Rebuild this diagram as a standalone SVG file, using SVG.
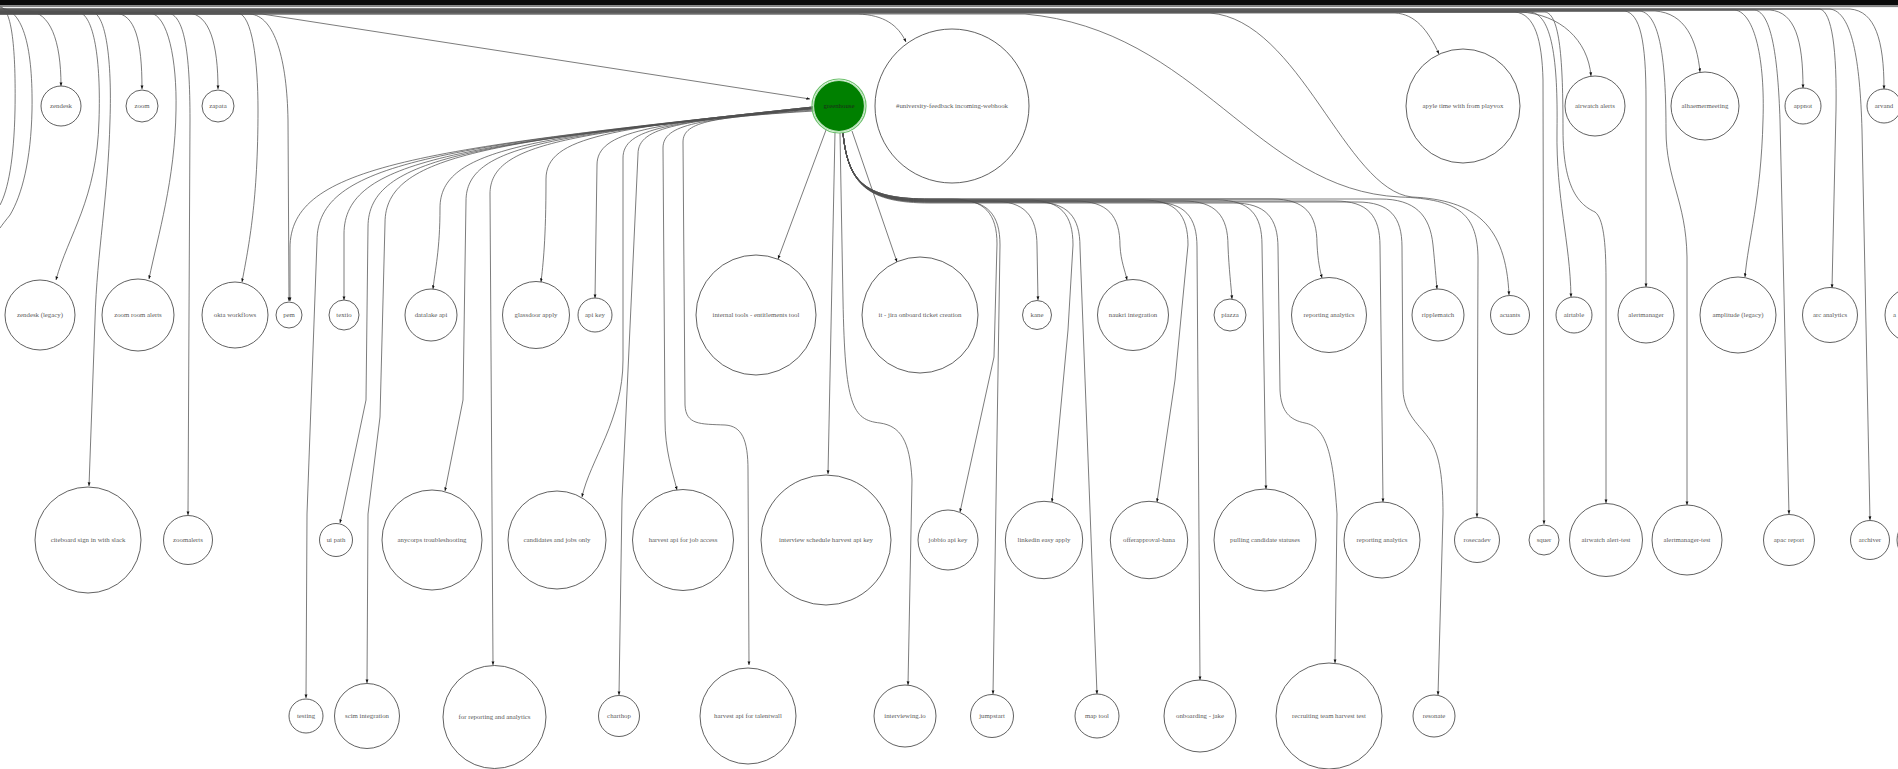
<svg xmlns="http://www.w3.org/2000/svg" width="1898" height="769" viewBox="0 0 1898 769">
<style>
  .e { fill: none; stroke: #505050; stroke-width: 0.75; marker-end: url(#arr); }
  .o { fill: none; stroke: #505050; stroke-width: 0.75; }
  .n circle { fill: #fff; stroke: #383838; stroke-width: 0.8; }
  .n text { font-family: "Liberation Serif", "Times New Roman", serif; font-size: 6.8px; fill: #5a5a5a; text-anchor: middle; }
  #n-greenhouse .ring { fill: none; stroke: #6cc06c; stroke-width: 1.2; }
  #n-greenhouse .core { fill: #008000; stroke: #b8e2b8; stroke-width: 1.2; }
  #n-greenhouse text { fill: #1c2a1c; }
</style>
<defs>
  <marker id="arr" viewBox="0 0 10 10" refX="10" refY="5" markerWidth="3.6" markerHeight="3.6" markerUnits="userSpaceOnUse" orient="auto">
    <path d="M0,1 L10,5 L0,9 z" fill="#111"/>
  </marker>
</defs>
<rect width="1898" height="769" fill="#fff"/>

<g id="edges">
  <!-- dense bundle running along the top edge -->
  <rect x="0" y="0" width="1898" height="5" fill="#0a0a0a"/>
  <path class="o" d="M0,5.6 L1898,5.6" stroke="#333"/>
  <path class="o" d="M0,6.6 L1898,6.6" stroke="#888"/>
  <path class="o" d="M0,7 C12,8 16,50 15,110 C14,160 8,190 0,205"/>
  <path class="o" d="M0,8 C24,9 33,50 32,110 C31,160 22,195 10,215 C6,220 2,225 0,228"/>

  <!-- edges leaving the top bundle -->
  <path class="e" d="M0,11 L28,11 C50,12 61,40 61,86"/>
  <path class="e" d="M0,12 L78,12 C94,14 101,60 99,120 C97,200 68,235 56,280"/>
  <path class="e" d="M0,12 L92,12 C106,14 112,60 110,120 C108,200 97,250 95,320 L89,486"/>
  <path class="e" d="M0,13 L115,13 C135,14 142,40 142,89"/>
  <path class="e" d="M0,13 L150,13 C168,15 177,60 176,110 C175,180 158,235 149,279"/>
  <path class="e" d="M0,13 L168,13 C184,15 190,50 190,120 L188,515"/>
  <path class="e" d="M0,13 L188,13 C210,14 218,45 218,89"/>
  <path class="e" d="M0,13 L238,13 C252,15 258,60 258,110 C258,200 249,245 242,282"/>
  <path class="e" d="M0,14 L250,14 C275,16 287,60 288,120 L289,301"/>
  <path class="e" d="M0,14 L262,14 L810,99"/>
  <path class="e" d="M0,14 L858,14 C884,15 898,25 906,42"/>
  <path class="e" d="M0,14 L1025,14 C1200,30 1255,190 1400,197 C1460,199 1478,215 1478,260 L1477,517"/>
  <path class="e" d="M0,13 L1210,13 C1300,20 1345,190 1412,197 C1475,200 1506,225 1509,295"/>
  <path class="e" d="M0,13 L1395,13 C1415,14 1428,30 1439,54"/>
  <path class="e" d="M0,12 L1520,12 C1560,14 1588,40 1591,76"/>
  <path class="e" d="M0,12 L1515,12 C1535,14 1542,40 1543,80 L1544,524"/>
  <path class="e" d="M0,12 L1530,12 C1552,14 1558,60 1557,130 C1556,200 1570,240 1571,297"/>
  <path class="e" d="M0,12 L1545,12 C1560,14 1563,60 1563,130 C1563,190 1580,205 1595,212 C1603,218 1606,240 1606,280 L1606,503"/>
  <path class="e" d="M0,11 L1655,11 C1685,13 1697,40 1700,72"/>
  <path class="e" d="M0,11 L1625,11 C1640,14 1646,40 1646,100 L1646,287"/>
  <path class="e" d="M0,11 L1640,11 C1660,14 1666,60 1666,130 C1666,180 1686,200 1687,257 L1687,505"/>
  <path class="e" d="M0,10 L1735,10 C1755,13 1765,60 1763,120 C1761,200 1748,240 1745,277"/>
  <path class="e" d="M0,10 L1755,10 C1772,13 1778,60 1780,120 L1789,514"/>
  <path class="e" d="M0,10 L1770,10 C1795,12 1803,40 1803,88"/>
  <path class="e" d="M0,9 L1820,9 C1832,12 1837,50 1836,110 L1832,288"/>
  <path class="e" d="M0,9 L1830,9 C1852,12 1860,60 1862,130 L1870,520"/>
  <path class="e" d="M0,9 L1850,9 C1875,11 1884,40 1884,89"/>

  <!-- greenhouse: fan to the left -->
  <path class="e" d="M813,107 C421,149 290,165 290,248 L290,301"/>
  <path class="e" d="M813,107 C441,147 317,162 317,241 L307,514 L306,698"/>
  <path class="e" d="M813,108 C461,145 344,159 344,234 L344,300"/>
  <path class="e" d="M813,108 C479,143 368,156 368,227 L366,400 L343,510 L340,523"/>
  <path class="e" d="M813,108 C492,141 385,154 385,223 L380,417 L368,514 L367,683"/>
  <path class="e" d="M813,107 C533,137 440,148 440,208 C440,250 435,270 433,289"/>
  <path class="e" d="M813,108 C553,135 466,145 466,201 L463,400 L445,491"/>
  <path class="e" d="M813,108 C571,133 490,143 490,194 L493,665"/>
  <path class="e" d="M813,107 C613,128 546,136 546,179 C546,240 543,265 541,282"/>
  <path class="e" d="M813,108 C651,124 597,131 597,165 L595,298"/>
  <path class="e" d="M813,109 C670,122 623,128 623,158 L623,360 C623,420 590,460 582,497"/>
  <path class="e" d="M813,109 C682,121 638,126 638,154 L622,500 L619,695"/>
  <path class="e" d="M814,110 C700,119 663,124 663,148 L665,420 C665,450 672,470 677,490"/>
  <path class="e" d="M814,111 C715,117 683,121 683,142 L685,405 C686,425 700,424 725,425 C742,426 748,440 748,470 L749,665"/>

  <!-- greenhouse: edges straight below -->
  <path class="e" d="M826,130 L778,259"/>
  <path class="e" d="M835,132 L828,474"/>
  <path class="e" d="M840,133 L843,300 C845,405 852,420 880,423 C900,426 910,440 912,480 L908,685"/>
  <path class="e" d="M852,131 L897,262"/>

  <!-- greenhouse: bundle to the right -->
  <path class="e" d="M843,133 C848,185 868,199 930,199 L952,199 C985,199 997,214 997,244 L994,357 L960,512"/>
  <path class="e" d="M843,133 C848,185 868,200 930,200 L955,200 C988,200 1000,215 1000,245 L993,694"/>
  <path class="e" d="M843,133 C848,185 868,201 930,201 L992,201 C1025,201 1037,216 1037,246 L1038,300"/>
  <path class="e" d="M843,133 C848,185 868,200 930,200 L1028,200 C1061,200 1073,215 1073,245 L1068,330 L1052,502"/>
  <path class="e" d="M843,133 C848,185 868,202 930,202 L1035,202 C1068,202 1080,217 1080,247 L1097,694"/>
  <path class="e" d="M843,133 C848,185 868,201 930,201 L1075,201 C1108,201 1120,216 1120,246 C1121,262 1125,270 1127,280"/>
  <path class="e" d="M843,133 C848,185 868,200 930,200 L1143,200 C1176,200 1188,215 1188,245 L1175,380 L1157,502"/>
  <path class="e" d="M843,133 C848,185 868,202 930,202 L1152,202 C1185,202 1197,217 1197,247 L1200,680"/>
  <path class="e" d="M843,133 C848,185 868,201 930,201 L1183,201 C1216,201 1228,216 1228,246 C1229,270 1231,285 1232,299"/>
  <path class="e" d="M843,133 C848,185 868,200 930,200 L1217,200 C1250,200 1262,215 1262,245 L1266,489"/>
  <path class="e" d="M843,133 C848,185 868,203 930,203 L1233,203 C1266,203 1278,218 1278,248 L1280,390 C1281,412 1290,420 1305,423 C1325,427 1333,450 1337,514 L1335,663"/>
  <path class="e" d="M843,133 C848,185 868,199 930,199 L1272,199 C1305,199 1317,214 1317,244 C1318,262 1320,270 1322,278"/>
  <path class="e" d="M843,133 C848,185 868,201 930,201 L1335,201 C1368,201 1380,216 1380,246 L1383,502"/>
  <path class="e" d="M843,133 C848,185 868,202 930,202 L1357,202 C1390,202 1402,217 1402,247 L1403,390 C1404,415 1420,425 1430,440 C1440,455 1443,480 1443,514 L1438,695"/>
  <path class="e" d="M843,133 C848,185 868,199 930,199 L1380,199 C1415,199 1430,215 1433,245 C1435,265 1436,278 1437,289"/>
</g>

<!-- row 1 -->
<g id="n-zendesk" class="n"><circle cx="61" cy="106" r="20"/><text x="61" y="108">zendesk</text></g>
<g id="n-zoom" class="n"><circle cx="142" cy="106" r="16"/><text x="142" y="108">zoom</text></g>
<g id="n-zapata" class="n"><circle cx="218" cy="106" r="16"/><text x="218" y="108">zapata</text></g>
<g id="n-greenhouse" class="n"><circle class="ring" cx="839" cy="106" r="27"/><circle class="core" cx="839" cy="106" r="25.5"/><text x="839" y="108">greenhouse</text></g>
<g id="n-university-feedback" class="n"><circle cx="952" cy="106" r="77"/><text x="952" y="108">#university-feedback incoming-webhook</text></g>
<g id="n-apyle" class="n"><circle cx="1463" cy="106" r="57"/><text x="1463" y="108">apyle time with from playvox</text></g>
<g id="n-airwatch-alerts" class="n"><circle cx="1595" cy="106" r="30"/><text x="1595" y="108">airwatch alerts</text></g>
<g id="n-alhaemermeeting" class="n"><circle cx="1705" cy="106" r="34"/><text x="1705" y="108">alhaemermeeting</text></g>
<g id="n-appnot" class="n"><circle cx="1803" cy="106" r="18"/><text x="1803" y="108">appnot</text></g>
<g id="n-arvand" class="n"><circle cx="1884" cy="106" r="17"/><text x="1884" y="108">arvand</text></g>

<!-- row 2 -->
<g id="n-zendesk-legacy" class="n"><circle cx="40" cy="315" r="35"/><text x="40" y="317">zendesk (legacy)</text></g>
<g id="n-zoom-room-alerts" class="n"><circle cx="138" cy="315" r="36"/><text x="138" y="317">zoom room alerts</text></g>
<g id="n-okta-workflows" class="n"><circle cx="235" cy="315" r="33"/><text x="235" y="317">okta workflows</text></g>
<g id="n-pem" class="n"><circle cx="289" cy="315" r="13"/><text x="289" y="317">pem</text></g>
<g id="n-textio" class="n"><circle cx="344" cy="315" r="15"/><text x="344" y="317">textio</text></g>
<g id="n-datalake-api" class="n"><circle cx="431" cy="315" r="26"/><text x="431" y="317">datalake api</text></g>
<g id="n-glassdoor-apply" class="n"><circle cx="536" cy="315" r="33.5"/><text x="536" y="317">glassdoor apply</text></g>
<g id="n-api-key" class="n"><circle cx="595" cy="315" r="17"/><text x="595" y="317">api key</text></g>
<g id="n-internal-tools" class="n"><circle cx="756" cy="315" r="60"/><text x="756" y="317">internal tools - entitlements tool</text></g>
<g id="n-it-jira" class="n"><circle cx="920" cy="315" r="58"/><text x="920" y="317">it - jira onboard ticket creation</text></g>
<g id="n-kane" class="n"><circle cx="1037" cy="315" r="14.5"/><text x="1037" y="317">kane</text></g>
<g id="n-naukri" class="n"><circle cx="1133" cy="315" r="35.5"/><text x="1133" y="317">naukri integration</text></g>
<g id="n-piazza" class="n"><circle cx="1230" cy="315" r="16"/><text x="1230" y="317">piazza</text></g>
<g id="n-reporting-analytics" class="n"><circle cx="1329" cy="315" r="37.5"/><text x="1329" y="317">reporting analytics</text></g>
<g id="n-ripplematch" class="n"><circle cx="1438" cy="315" r="26"/><text x="1438" y="317">ripplematch</text></g>
<g id="n-acuants" class="n"><circle cx="1510" cy="315" r="19.5"/><text x="1510" y="317">acuants</text></g>
<g id="n-airtable" class="n"><circle cx="1574" cy="315" r="18"/><text x="1574" y="317">airtable</text></g>
<g id="n-alertmanager" class="n"><circle cx="1646" cy="315" r="28"/><text x="1646" y="317">alertmanager</text></g>
<g id="n-amplitude-legacy" class="n"><circle cx="1738" cy="315" r="38"/><text x="1738" y="317">amplitude (legacy)</text></g>
<g id="n-arc-analytics" class="n"><circle cx="1830" cy="315" r="27.5"/><text x="1830" y="317">arc analytics</text></g>
<g id="n-a-edge" class="n"><circle cx="1912" cy="315" r="27"/><text x="1893" y="317" style="text-anchor:start">a</text></g>

<!-- row 3 -->
<g id="n-citeboard" class="n"><circle cx="88" cy="540" r="53"/><text x="88" y="542">citeboard sign in with slack</text></g>
<g id="n-zoomalerts" class="n"><circle cx="188" cy="540" r="24.5"/><text x="188" y="542">zoomalerts</text></g>
<g id="n-ui-path" class="n"><circle cx="336" cy="540" r="16.5"/><text x="336" y="542">ui path</text></g>
<g id="n-anycorps" class="n"><circle cx="432" cy="540" r="50"/><text x="432" y="542">anycorps troubleshooting</text></g>
<g id="n-candidates" class="n"><circle cx="557" cy="540" r="49"/><text x="557" y="542">candidates and jobs only</text></g>
<g id="n-harvest-job" class="n"><circle cx="683" cy="540" r="50.5"/><text x="683" y="542">harvest api for job access</text></g>
<g id="n-interview-schedule" class="n"><circle cx="826" cy="540" r="65"/><text x="826" y="542">interview schedule harvest api key</text></g>
<g id="n-jobbio" class="n"><circle cx="948" cy="540" r="30"/><text x="948" y="542">jobbio api key</text></g>
<g id="n-linkedin" class="n"><circle cx="1044" cy="540" r="38.7"/><text x="1044" y="542">linkedin easy apply</text></g>
<g id="n-offerapproval" class="n"><circle cx="1149" cy="540" r="38.7"/><text x="1149" y="542">offerapproval-hana</text></g>
<g id="n-pulling" class="n"><circle cx="1265" cy="540" r="51"/><text x="1265" y="542">pulling candidate statuses</text></g>
<g id="n-reporting-analytics-2" class="n"><circle cx="1382" cy="540" r="38"/><text x="1382" y="542">reporting  analytics</text></g>
<g id="n-rosecadev" class="n"><circle cx="1477" cy="540" r="22.5"/><text x="1477" y="542">rosecadev</text></g>
<g id="n-squer" class="n"><circle cx="1544" cy="540" r="15"/><text x="1544" y="542">squer</text></g>
<g id="n-airwatch-alert-test" class="n"><circle cx="1606" cy="540" r="36.5"/><text x="1606" y="542">airwatch alert-test</text></g>
<g id="n-alertmanager-test" class="n"><circle cx="1687" cy="540" r="35"/><text x="1687" y="542">alertmanager-test</text></g>
<g id="n-apac-report" class="n"><circle cx="1789" cy="540" r="25.5"/><text x="1789" y="542">apac report</text></g>
<g id="n-archiver" class="n"><circle cx="1870" cy="540" r="19.5"/><text x="1870" y="542">archiver</text></g>
<g id="n-edge-row3" class="n"><circle cx="1920" cy="540" r="23"/></g>

<!-- row 4 -->
<g id="n-testing" class="n"><circle cx="306" cy="716" r="17"/><text x="306" y="718">testing</text></g>
<g id="n-scim" class="n"><circle cx="367" cy="716" r="32.5"/><text x="367" y="718">scim integration</text></g>
<g id="n-for-reporting" class="n"><circle cx="494.5" cy="717" r="51.5"/><text x="494.5" y="719">for reporting and analytics</text></g>
<g id="n-charthop" class="n"><circle cx="619" cy="716" r="20.5"/><text x="619" y="718">charthop</text></g>
<g id="n-talentwall" class="n"><circle cx="748" cy="716" r="48"/><text x="748" y="718">harvest api for talentwall</text></g>
<g id="n-interviewing-io" class="n"><circle cx="905" cy="716" r="31"/><text x="905" y="718">interviewing.io</text></g>
<g id="n-jumpstart" class="n"><circle cx="992" cy="716" r="21.5"/><text x="992" y="718">jumpstart</text></g>
<g id="n-map-tool" class="n"><circle cx="1097" cy="716" r="22"/><text x="1097" y="718">map tool</text></g>
<g id="n-onboarding" class="n"><circle cx="1200" cy="716" r="36"/><text x="1200" y="718">onboarding - jake</text></g>
<g id="n-recruiting" class="n"><circle cx="1329" cy="716" r="53"/><text x="1329" y="718">recruiting team harvest test</text></g>
<g id="n-resonate" class="n"><circle cx="1434" cy="716" r="21"/><text x="1434" y="718">resonate</text></g>
</svg>
